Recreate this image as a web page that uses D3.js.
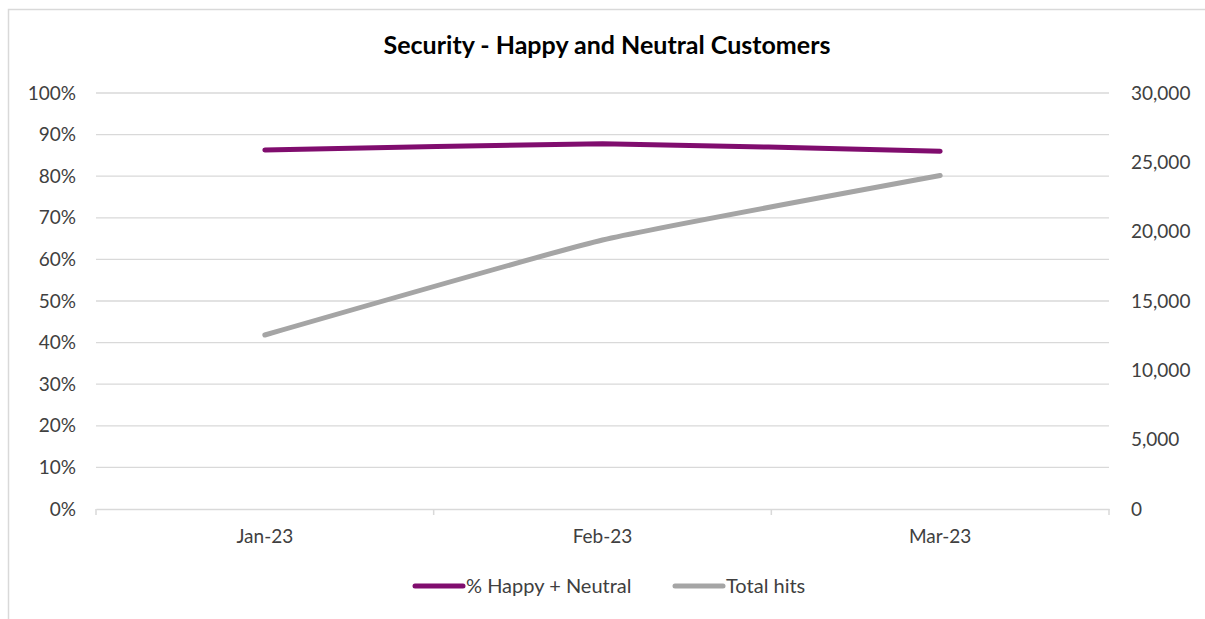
<!DOCTYPE html>
<html>
<head>
<meta charset="utf-8">
<script src="https://cdn.jsdelivr.net/npm/d3@7"></script>
<style>
  body { margin: 0; background: #fff; }
  text { font-family: Lato, "Open Sans", sans-serif; fill: #404040; }
  .title { font-weight: bold; fill: #000; }
</style>
</head>
<body>
<svg id="chart" width="1205" height="619"></svg>
<script>
const months = ["Jan-23", "Feb-23", "Mar-23"];
const happyPct = [0.863, 0.878, 0.860];
const totalHits = [12550, 19400, 24050];
const leftTicks = [0, 0.1, 0.2, 0.3, 0.4, 0.5, 0.6, 0.7, 0.8, 0.9, 1];
const rightTicks = [0, 5000, 10000, 15000, 20000, 25000, 30000];

const svg = d3.select("#chart");
const plotL = 96, plotR = 1109, plotT = 93, plotB = 509;
const labelSize = "19px";

// outer frame
svg.append("rect")
    .attr("x", 8.5).attr("y", 9.5)
    .attr("width", 1205).attr("height", 640)
    .attr("fill", "none")
    .attr("stroke", "#d9d9d9")
    .attr("stroke-width", 1.5);

const x = d3.scaleBand().domain(months).range([plotL, plotR]);
const yL = d3.scaleLinear().domain([0, 1]).range([plotB, plotT]);
const yR = d3.scaleLinear().domain([0, 30000]).range([plotB, plotT]);

// gridlines
svg.append("g")
    .selectAll("line")
    .data(leftTicks.slice(1))
    .join("line")
    .attr("x1", plotL).attr("x2", plotR)
    .attr("y1", d => yL(d)).attr("y2", d => yL(d))
    .attr("stroke", "#d9d9d9")
    .attr("stroke-width", 1.3);

// left axis
const axL = svg.append("g")
    .attr("transform", `translate(${plotL},0)`)
    .call(d3.axisLeft(yL).tickValues(leftTicks).tickFormat(d3.format(".0%")).tickSize(0).tickPadding(20));
axL.select(".domain").remove();
axL.selectAll("text").style("font-size", labelSize).attr("fill", "#404040");

// right axis
const axR = svg.append("g")
    .attr("transform", `translate(${plotR},0)`)
    .call(d3.axisRight(yR).tickValues(rightTicks).tickFormat(d3.format(",")).tickSize(0).tickPadding(22));
axR.select(".domain").remove();
axR.selectAll("text").style("font-size", labelSize).attr("fill", "#404040");

// bottom axis
const axB = svg.append("g")
    .attr("transform", `translate(0,${plotB})`)
    .call(d3.axisBottom(x).tickSize(0).tickPadding(21));
axB.select(".domain").attr("stroke", "#d9d9d9").attr("stroke-width", 1.5);
axB.selectAll("text").style("font-size", labelSize).attr("fill", "#404040");
svg.append("g")
    .selectAll("line")
    .data(months.map(m => x(m)).concat([plotR]))
    .join("line")
    .attr("x1", d => d).attr("x2", d => d)
    .attr("y1", plotB).attr("y2", plotB + 6)
    .attr("stroke", "#d9d9d9")
    .attr("stroke-width", 1.5);

const cx = m => x(m) + x.bandwidth() / 2;
const smooth = d3.curveCardinal.tension(0.6);

svg.append("path")
    .datum(totalHits)
    .attr("fill", "none")
    .attr("stroke", "#a5a5a5")
    .attr("stroke-width", 5)
    .attr("stroke-linecap", "round")
    .attr("stroke-linejoin", "round")
    .attr("d", d3.line().x((d, i) => cx(months[i])).y(d => yR(d)).curve(smooth));

svg.append("path")
    .datum(happyPct)
    .attr("fill", "none")
    .attr("stroke", "#800d6e")
    .attr("stroke-width", 5)
    .attr("stroke-linecap", "round")
    .attr("stroke-linejoin", "round")
    .attr("d", d3.line().x((d, i) => cx(months[i])).y(d => yL(d)).curve(smooth));

svg.append("text")
    .attr("class", "title")
    .attr("x", 607).attr("y", 54)
    .attr("text-anchor", "middle")
    .style("font-size", "25px")
    .text("Security - Happy and Neutral Customers");

// legend
const legend = [
  { name: "% Happy + Neutral", color: "#800d6e", x: 413 },
  { name: "Total hits", color: "#a5a5a5", x: 673 }
];
const lg = svg.append("g").selectAll("g").data(legend).join("g")
    .attr("transform", d => `translate(${d.x},586)`);
lg.append("line")
    .attr("x1", 2).attr("x2", 50).attr("y1", 0).attr("y2", 0)
    .attr("stroke", d => d.color)
    .attr("stroke-width", 5)
    .attr("stroke-linecap", "round");
lg.append("text")
    .attr("x", 53).attr("y", 7)
    .style("font-size", "20px")
    .text(d => d.name);
</script>
</body>
</html>
